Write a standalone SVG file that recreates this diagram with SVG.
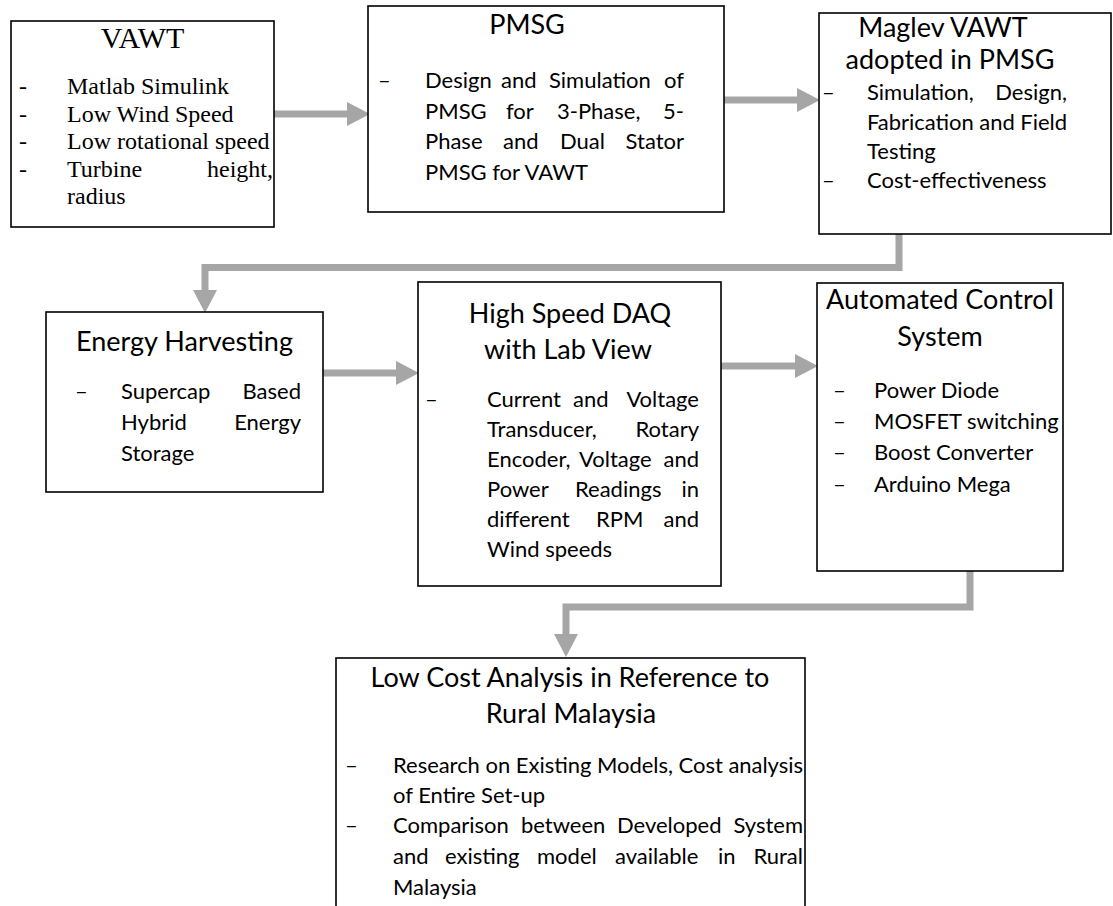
<svg xmlns="http://www.w3.org/2000/svg" width="1113" height="906" viewBox="0 0 1113 906">
<style>
.box{fill:#fff;stroke:#000;stroke-width:1.6}
.t{font-family:Lato,"Open Sans",sans-serif;font-size:27px;fill:#000;text-anchor:middle}
.b{font-family:Lato,"Open Sans",sans-serif;font-size:22px;fill:#000}
.e{text-anchor:end}
.s{font-family:"Liberation Serif","Times New Roman",serif;fill:#000}
.c{fill:none;stroke:#a6a6a6;stroke-width:7;stroke-linejoin:miter}
</style>
<defs>
<marker id="ah" markerUnits="userSpaceOnUse" markerWidth="24" markerHeight="24" viewBox="0 0 22 23" refX="0" refY="11.5" orient="auto">
<path d="M0,0 L22,11.5 L0,23 Z" fill="#a6a6a6"/>
</marker>
</defs>
<rect width="1113" height="906" fill="#fff"/>

<g id="connectors">
<path class="c" d="M274,114 H347" marker-end="url(#ah)"/>
<path class="c" d="M724,100 H797" marker-end="url(#ah)"/>
<path class="c" d="M899,234 V267.5 H205 V290" marker-end="url(#ah)"/>
<path class="c" d="M323,373 H396" marker-end="url(#ah)"/>
<path class="c" d="M721,366 H795" marker-end="url(#ah)"/>
<path class="c" d="M970,571 V607 H566 V634" marker-end="url(#ah)"/>
</g>

<g id="vawt">
<rect class="box" x="11" y="21" width="263" height="206"/>
<text class="s" x="142.5" y="48" font-size="30" text-anchor="middle">VAWT</text>
<g class="s" font-size="24">
<text x="19" y="94">-</text><text x="67" y="94">Matlab Simulink</text>
<text x="19" y="121.5">-</text><text x="67" y="121.5">Low Wind Speed</text>
<text x="19" y="149">-</text><text x="67" y="149">Low rotational speed</text>
<text x="19" y="176.5">-</text><text x="67" y="176.5">Turbine</text><text x="273" y="176.5" text-anchor="end">height,</text>
<text x="67" y="204">radius</text>
</g>
</g>

<g id="pmsg">
<rect class="box" x="368" y="6" width="356" height="206"/>
<text class="t" x="527" y="34">PMSG</text>
<text class="b" x="378" y="88">–</text>
<text class="b" y="88"><tspan x="425">Design</tspan><tspan x="501">and</tspan><tspan x="549">Simulation</tspan></text><text class="b e" x="684" y="88">of</text>
<text class="b" y="119"><tspan x="425">PMSG</tspan><tspan x="506">for</tspan><tspan x="557">3-Phase,</tspan></text><text class="b e" x="684" y="119">5-</text>
<text class="b" y="149"><tspan x="425">Phase</tspan><tspan x="503">and</tspan><tspan x="560">Dual</tspan></text><text class="b e" x="684" y="149">Stator</text>
<text class="b" x="425" y="180">PMSG for VAWT</text>
</g>

<g id="maglev">
<rect class="box" x="819" y="13" width="292" height="221"/>
<text class="t" x="943" y="37">Maglev VAWT</text>
<text class="t" x="950" y="69">adopted in PMSG</text>
<text class="b" x="822" y="100">–</text>
<text class="b" x="867" y="100">Simulation,</text><text class="b e" x="1067" y="100">Design,</text>
<text class="b" x="867" y="130" textLength="200" lengthAdjust="spacing">Fabrication and Field</text>
<text class="b" x="867" y="159">Testing</text>
<text class="b" x="822" y="188">–</text>
<text class="b" x="867" y="188">Cost-effectiveness</text>
</g>

<g id="energy">
<rect class="box" x="46" y="312" width="277" height="180"/>
<text class="t" x="184.5" y="351">Energy Harvesting</text>
<text class="b" x="75" y="399">–</text>
<text class="b" x="121" y="399">Supercap</text><text class="b e" x="301" y="399">Based</text>
<text class="b" x="121" y="430">Hybrid</text><text class="b e" x="301" y="430">Energy</text>
<text class="b" x="121" y="461">Storage</text>
</g>

<g id="daq">
<rect class="box" x="418" y="282" width="303" height="304"/>
<text class="t" x="570" y="323">High Speed DAQ</text>
<text class="t" x="568" y="359">with Lab View</text>
<text class="b" x="425" y="407">–</text>
<text class="b" y="407"><tspan x="487">Current</tspan><tspan x="573">and</tspan></text><text class="b e" x="699" y="407">Voltage</text>
<text class="b" x="487" y="437">Transducer,</text><text class="b e" x="699" y="437">Rotary</text>
<text class="b" y="467"><tspan x="487">Encoder,</tspan><tspan x="579">Voltage</tspan></text><text class="b e" x="699" y="467">and</text>
<text class="b" y="497"><tspan x="487">Power</tspan><tspan x="575">Readings</tspan></text><text class="b e" x="699" y="497">in</text>
<text class="b" y="527"><tspan x="487">different</tspan><tspan x="596">RPM</tspan></text><text class="b e" x="699" y="527">and</text>
<text class="b" x="487" y="557">Wind speeds</text>
</g>

<g id="control">
<rect class="box" x="817" y="283" width="246" height="288"/>
<text class="t" x="940" y="309">Automated Control</text>
<text class="t" x="940" y="346">System</text>
<text class="b" x="833" y="398">–</text><text class="b" x="874" y="398">Power Diode</text>
<text class="b" x="833" y="429">–</text><text class="b" x="874" y="429">MOSFET switching</text>
<text class="b" x="833" y="460">–</text><text class="b" x="874" y="460">Boost Converter</text>
<text class="b" x="833" y="492">–</text><text class="b" x="874" y="492">Arduino Mega</text>
</g>

<g id="lowcost">
<rect class="box" x="336" y="658" width="469" height="260"/>
<text class="t" x="570" y="687">Low Cost Analysis in Reference to</text>
<text class="t" x="571" y="723">Rural Malaysia</text>
<text class="b" x="345" y="773">–</text>
<text class="b" x="393" y="773" textLength="410" lengthAdjust="spacing">Research on Existing Models, Cost analysis</text>
<text class="b" x="393" y="803">of Entire Set-up</text>
<text class="b" x="345" y="833">–</text>
<text class="b" y="833"><tspan x="393">Comparison</tspan><tspan x="521">between</tspan><tspan x="617">Developed</tspan></text><text class="b e" x="803" y="833">System</text>
<text class="b" y="864"><tspan x="393">and</tspan><tspan x="445">existing</tspan><tspan x="537">model</tspan><tspan x="615">available</tspan><tspan x="718">in</tspan></text><text class="b e" x="803" y="864">Rural</text>
<text class="b" x="393" y="895">Malaysia</text>
</g>
</svg>
